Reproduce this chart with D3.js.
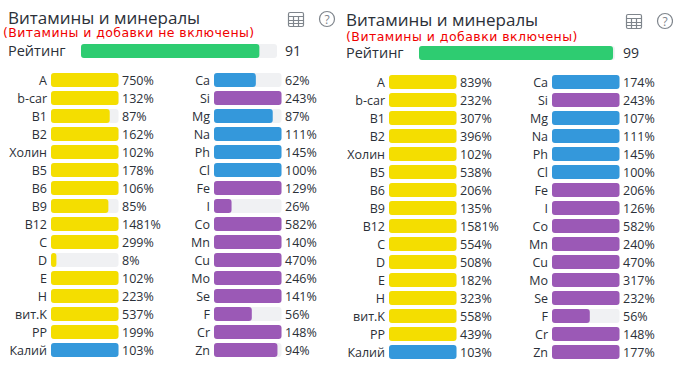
<!DOCTYPE html>
<html>
<head>
<meta charset="utf-8">
<script src="https://cdn.jsdelivr.net/npm/d3@7"></script>
<style>
body { margin: 0; background: #fff; }
text { font-family: "Open Sans", sans-serif; }
</style>
</head>
<body>
<div id="chart"></div>
<script>
var namesLeft = ["A", "b-car", "B1", "B2", "Холин", "B5", "B6", "B9", "B12", "C", "D", "E", "H", "вит.K", "PP", "Калий"];
var namesRight = ["Ca", "Si", "Mg", "Na", "Ph", "Cl", "Fe", "I", "Co", "Mn", "Cu", "Mo", "Se", "F", "Cr", "Zn"];
var groupLeft = ["v", "v", "v", "v", "v", "v", "v", "v", "v", "v", "v", "v", "v", "v", "v", "m"];
var groupRight = ["m", "t", "m", "m", "m", "m", "t", "t", "t", "t", "t", "t", "t", "t", "t", "t"];

var valuesA1 = [750, 132, 87, 162, 102, 178, 106, 85, 1481, 299, 8, 102, 223, 537, 199, 103];
var valuesA2 = [62, 243, 87, 111, 145, 100, 129, 26, 582, 140, 470, 246, 141, 56, 148, 94];
var valuesB1 = [839, 232, 307, 396, 102, 538, 206, 135, 1581, 554, 508, 182, 323, 558, 439, 103];
var valuesB2 = [174, 243, 107, 111, 145, 100, 206, 126, 582, 240, 470, 317, 232, 56, 148, 177];

var ratingA = 91, ratingB = 99;
var titleText = "Витамины и минералы";
var noteA = "(Витамины и добавки не включены)";
var noteB = "(Витамины и добавки включены)";

var colors = {v: "#f4de00", m: "#3498db", t: "#9b59b6"};
var trackColor = "#f0f1f3";
var textColor = "#2b3038";

var svg = d3.select("#chart").append("svg").attr("width", 673).attr("height", 366);

function roundedBars(g, data, x, y) {
    g.selectAll("rect.track").data(data).enter().append("rect")
        .attr("class", "track")
        .attr("x", x.range()[0])
        .attr("y", function(d) { return y(d.name); })
        .attr("width", x.range()[1] - x.range()[0])
        .attr("height", y.bandwidth())
        .attr("rx", 3)
        .attr("fill", trackColor);
    g.selectAll("rect.value").data(data).enter().append("rect")
        .attr("class", "value")
        .attr("x", x.range()[0])
        .attr("y", function(d) { return y(d.name); })
        .attr("width", function(d) { return x(d.value) - x.range()[0]; })
        .attr("height", y.bandwidth())
        .attr("rx", 3)
        .attr("fill", function(d) { return d.color; });
}

function drawColumn(parent, names, values, groups, x0) {
    var g = parent.append("g");
    var data = names.map(function(n, i) { return {name: n, value: values[i], color: colors[groups[i]]}; });
    var x = d3.scaleLinear().domain([0, 100]).range([x0, x0 + 67.5]).clamp(true);
    var y = d3.scaleBand().domain(names).range([73, 357]).paddingInner(4 / 18).paddingOuter(0);
    roundedBars(g, data, x, y);
    g.selectAll("text.name").data(data).enter().append("text")
        .attr("class", "name")
        .attr("x", x0 - 4)
        .attr("y", function(d) { return y(d.name) + 12; })
        .attr("text-anchor", "end")
        .attr("font-size", 12.5)
        .attr("fill", textColor)
        .text(function(d) { return d.name; });
    g.selectAll("text.val").data(data).enter().append("text")
        .attr("class", "val")
        .attr("x", x0 + 71)
        .attr("y", function(d) { return y(d.name) + 12; })
        .attr("font-size", 12.5)
        .attr("fill", textColor)
        .text(function(d) { return d.value + "%"; });
}

function drawIcons(g, x, y) {
    // table icon
    var t = g.append("g").attr("fill", "none").attr("stroke", "#7f858c").attr("stroke-width", 1.2);
    t.append("rect").attr("x", x + 0.5).attr("y", y + 0.5).attr("width", 15).attr("height", 14).attr("rx", 1.5);
    t.append("path").attr("d", "M" + (x + 0.5) + " " + (y + 4.5) + "h15M" + (x + 0.5) + " " + (y + 8.5) + "h15M" + (x + 0.5) + " " + (y + 11.5) + "h15M" + (x + 5.5) + " " + (y + 4.5) + "v10M" + (x + 10.5) + " " + (y + 4.5) + "v10");
    // help icon
    g.append("circle").attr("cx", x + 39).attr("cy", y + 7).attr("r", 7.5).attr("fill", "none").attr("stroke", "#7f858c").attr("stroke-width", 1.2);
    g.append("text").attr("x", x + 39).attr("y", y + 11.5).attr("text-anchor", "middle").attr("font-size", 12).attr("fill", "#7f858c").text("?");
}

function drawPanel(dx, dy, noteX, noteY, note, rating, v1, v2, noteSpacing) {
    var g = svg.append("g").attr("transform", "translate(" + dx + "," + dy + ")");
    g.append("text").attr("x", 8).attr("y", 24).attr("font-size", 17).attr("fill", textColor).text(titleText);
    g.append("text").attr("x", noteX).attr("y", noteY).style("font-family", "DejaVu Sans")
        .attr("font-size", 12.5).attr("letter-spacing", noteSpacing).attr("fill", "#f00000").text(note);
    g.append("text").attr("x", 8).attr("y", 56).attr("font-size", 14.5).attr("fill", textColor).text("Рейтинг");

    var xr = d3.scaleLinear().domain([0, 100]).range([81, 277]);
    g.append("rect").attr("x", xr(0)).attr("y", 44).attr("width", xr(100) - xr(0)).attr("height", 14).attr("rx", 3).attr("fill", trackColor);
    g.append("rect").attr("x", xr(0)).attr("y", 44).attr("width", xr(rating) - xr(0)).attr("height", 14).attr("rx", 3).attr("fill", "#2ecc71");
    g.append("text").attr("x", 285).attr("y", 56).attr("font-size", 14).attr("font-weight", 500).attr("fill", textColor).text(rating);

    drawColumn(g, namesLeft, v1, groupLeft, 51);
    drawColumn(g, namesRight, v2, groupRight, 214);
    drawIcons(g, 288, 12);
}

drawPanel(0, 0, 3, 37, noteA, ratingA, valuesA1, valuesA2, 0.42);
drawPanel(338, 2, 8, 39, noteB, ratingB, valuesB1, valuesB2, 0.47);
</script>
</body>
</html>
